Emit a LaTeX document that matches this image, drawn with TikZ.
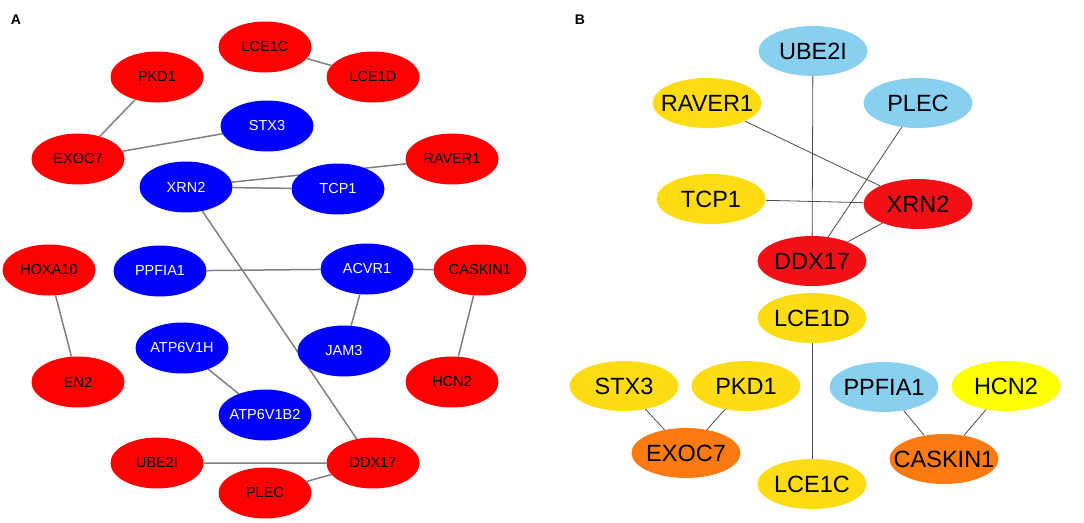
\documentclass[tikz,border=0pt]{standalone}
\usepackage{fontspec}
\setmainfont{Liberation Sans}
\usetikzlibrary{shapes.geometric}
\pgfdeclarelayer{bg}
\pgfsetlayers{bg,main}
\definecolor{nred}{RGB}{255,0,0}
\definecolor{nblue}{RGB}{0,0,255}
\definecolor{bred}{RGB}{240,16,22}
\definecolor{bgold}{RGB}{253,220,20}
\definecolor{bsky}{RGB}{137,207,240}
\definecolor{borange}{RGB}{252,122,18}
\definecolor{byellow}{RGB}{255,255,0}
\newcommand{\gn}[1]{\makebox[0pt]{#1}}

\begin{document}
\begin{tikzpicture}[x=1pt,y=-1pt,
	gA/.style={ellipse,inner sep=0,minimum width=93pt,minimum height=51pt,font=\fontsize{14.5}{16}\selectfont},
	gB/.style={ellipse,inner sep=0,minimum width=109pt,minimum height=50pt,font=\fontsize{23.5}{26}\selectfont},
	red/.style={gA,fill=nred,text=black},
	blue/.style={gA,fill=nblue,text=white},
	eA/.style={draw=gray,line width=1.5pt},
	eB/.style={draw=black!70,line width=0.8pt}]
	\useasboundingbox (0,0) rectangle (1084,522);
	\node[font=\fontsize{14}{16}\selectfont\bfseries] (labA) at (16,20) {A};
	\node[font=\fontsize{14}{16}\selectfont\bfseries] (labB) at (580,20) {B};
	% panel A
	\node[red] (aLCE1C) at (265,47) {\gn{LCE1C}};
	\node[red] (aLCE1D) at (373,77) {\gn{LCE1D}};
	\node[red] (aPKD1) at (157,77) {\gn{PKD1}};
	\node[blue] (aSTX3) at (267,126) {\gn{STX3}};
	\node[red] (aEXOC7) at (78,159) {\gn{EXOC7}};
	\node[red] (aRAVER1) at (452,159) {\gn{RAVER1}};
	\node[blue] (aXRN2) at (186,187) {\gn{XRN2}};
	\node[blue] (aTCP1) at (338,189) {\gn{TCP1}};
	\node[red] (aHOXA10) at (49,270) {\gn{HOXA10}};
	\node[blue] (aPPFIA1) at (160,271) {\gn{PPFIA1}};
	\node[blue] (aACVR1) at (367,269) {\gn{ACVR1}};
	\node[red] (aCASKIN1) at (480,270) {\gn{CASKIN1}};
	\node[red] (aEN2) at (78,382) {\gn{EN2}};
	\node[blue] (aATP6V1H) at (182,348) {\gn{ATP6V1H}};
	\node[blue] (aJAM3) at (344,351) {\gn{JAM3}};
	\node[red] (aHCN2) at (452,382) {\gn{HCN2}};
	\node[blue] (aATP6V1B2) at (265,415) {\gn{ATP6V1B2}};
	\node[red] (aUBE2I) at (157,463) {\gn{UBE2I}};
	\node[red] (aDDX17) at (373,463) {\gn{DDX17}};
	\node[red] (aPLEC) at (265,493) {\gn{PLEC}};
	% panel B
	\node[gB,fill=bsky] (bUBE2I) at (813,51) {\gn{UBE2I}};
	\node[gB,fill=bgold] (bRAVER1) at (707,103) {\gn{RAVER1}};
	\node[gB,fill=bsky] (bPLEC) at (918,103) {\gn{PLEC}};
	\node[gB,fill=bgold] (bTCP1) at (711,199) {\gn{TCP1}};
	\node[gB,fill=bred] (bXRN2) at (918,204) {\gn{XRN2}};
	\node[gB,fill=bred] (bDDX17) at (812,261) {\gn{DDX17}};
	\node[gB,fill=bgold] (bLCE1D) at (812,318) {\gn{LCE1D}};
	\node[gB,fill=bgold] (bSTX3) at (624,386) {\gn{STX3}};
	\node[gB,fill=bgold] (bPKD1) at (746,386) {\gn{PKD1}};
	\node[gB,fill=borange] (bEXOC7) at (686,453) {\gn{EXOC7}};
	\node[gB,fill=bgold] (bLCE1C) at (812,484) {\gn{LCE1C}};
	\node[gB,fill=bsky] (bPPFIA1) at (884,387) {\gn{PPFIA1}};
	\node[gB,fill=byellow] (bHCN2) at (1006,386) {\gn{HCN2}};
	\node[gB,fill=borange] (bCASKIN1) at (944,459) {\gn{CASKIN1}};
	\begin{pgfonlayer}{bg}
		\draw[eA] (aLCE1C) -- (aLCE1D);
		\draw[eA] (aPKD1) -- (aEXOC7) -- (aSTX3);
		\draw[eA] (aXRN2) -- (aRAVER1);
		\draw[eA] (aXRN2) -- (aTCP1);
		\draw[eA] (aXRN2) -- (aDDX17);
		\draw[eA] (aPPFIA1) -- (aACVR1) -- (aCASKIN1) -- (aHCN2);
		\draw[eA] (aACVR1) -- (aJAM3);
		\draw[eA] (aHOXA10) -- (aEN2);
		\draw[eA] (aATP6V1H) -- (aATP6V1B2);
		\draw[eA] (aUBE2I) -- (aDDX17) -- (aPLEC);
		\draw[eB] (bRAVER1) -- (bXRN2) -- (bTCP1);
		\draw[eB] (bUBE2I) -- (bDDX17) -- (bPLEC);
		\draw[eB] (bXRN2) -- (bDDX17);
		\draw[eB] (bLCE1D) -- (bLCE1C);
		\draw[eB] (bSTX3) -- (bEXOC7) -- (bPKD1);
		\draw[eB] (bPPFIA1) -- (bCASKIN1) -- (bHCN2);
	\end{pgfonlayer}
\end{tikzpicture}
\end{document}
